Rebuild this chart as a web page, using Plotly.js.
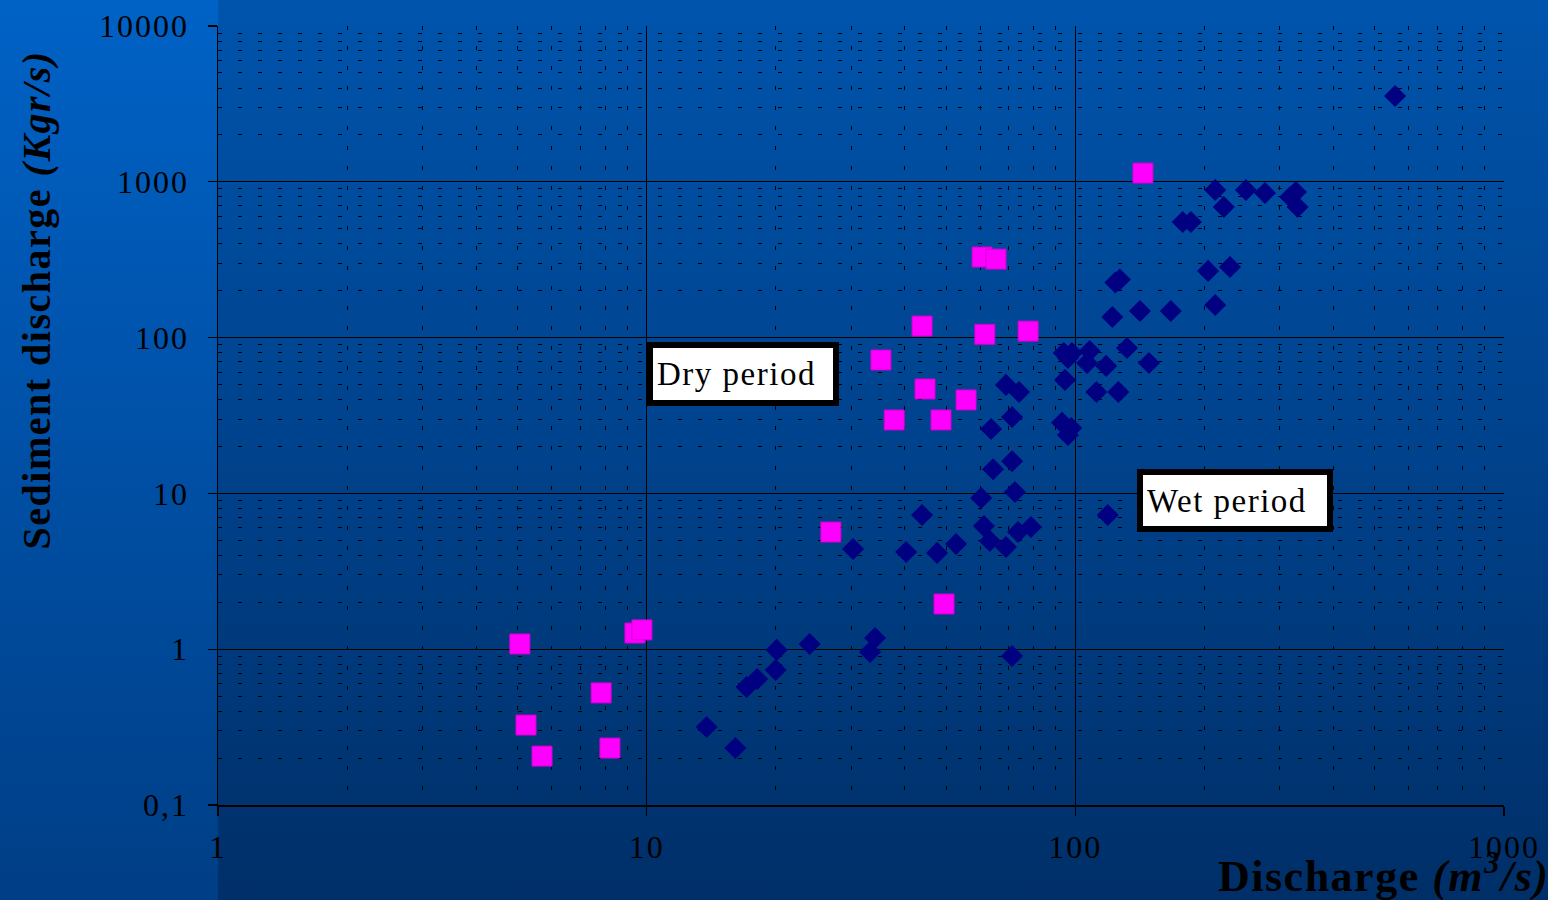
<!DOCTYPE html>
<html>
<head>
<meta charset="utf-8">
<script src="https://cdn.plot.ly/plotly-3.0.1.min.js"></script>
<style>
  html, body { margin: 0; padding: 0; }
  #wrap { position: relative; width: 1548px; height: 900px;
          background: linear-gradient(to bottom, #0054ac 0%, #00428c 50%, #002f68 100%); overflow: hidden; }
  #strip { position: absolute; left: 0; top: 0; width: 218px; height: 900px;
           background: linear-gradient(to bottom, #0062c6 0%, #0050a6 50%, #003e86 100%); }
  #chart { position: absolute; left: 0; top: 0; width: 1548px; height: 900px; }
  #chart .xtick text, #chart .ytick text { letter-spacing: 2px; }
  #chart .annotation-text { letter-spacing: 1.5px; }
</style>
</head>
<body>
<div id="wrap"><div id="strip"></div><div id="chart"></div></div>
<script>
// Dry period (magenta squares)
const dryDischarge = [5.06, 5.23, 5.70, 7.83, 8.21, 9.39, 9.75, 26.9, 35.2, 37.8, 43.9, 44.6, 48.6, 49.4, 55.6, 60.6, 65.3, 61.5, 77.6, 143.8];
const drySediment  = [1.08, 0.326, 0.206, 0.524, 0.232, 1.27, 1.33, 5.65, 71.8, 29.6, 118.6, 46.8, 29.6, 1.95, 39.8, 329, 319, 105, 110, 1138];

// Wet period (navy diamonds)
const wetDischarge = [13.8, 16.1, 17.1, 18.1, 20.1, 20.0, 24.0, 30.3, 33.2, 34.1, 40.3, 43.9, 47.6, 52.7,
  60.3, 61.2, 63.2, 68.9, 73.5, 78.8, 72.3, 64.3, 71.2, 63.6, 71.2, 68.9, 73.9, 71.2,
  124, 127, 178, 186, 212, 222, 250, 277, 317, 327, 330, 122, 141.5, 167, 204, 229.5, 212,
  94.0, 98.2, 96.1, 108, 106.5, 132, 118, 148.5, 94.6, 112, 126, 93.1, 97.8, 96.1, 119, 557];
const wetSediment  = [0.317, 0.232, 0.572, 0.644, 0.99, 0.735, 1.08, 4.40, 0.96, 1.18, 4.21, 7.26, 4.15, 4.73,
  9.34, 6.18, 4.95, 4.53, 5.65, 6.08, 10.2, 14.3, 16.1, 25.9, 30.9, 49.7, 44.8, 0.904,
  226, 236, 552, 552, 885, 689, 885, 847, 798, 860, 689, 135.5, 148, 148, 268, 284, 162,
  79.6, 79.6, 74.0, 82.0, 68.7, 85.7, 65.8, 68.7, 53.5, 44.8, 44.8, 28.4, 26.3, 23.7, 7.26, 3557];

const xTickVals = [1, 10, 100, 1000];
const xTickText = ['1', '10', '100', '1000'];
const yTickVals = [0.1, 1, 10, 100, 1000, 10000];
const yTickText = ['0,1', '1', '10', '100', '1000', '10000'];

function minorVals(lo, hi) {
  const v = [];
  for (let d = lo; d < hi; d++) for (let k = 2; k <= 9; k++) v.push(k * Math.pow(10, d));
  return v;
}

const serif = 'Liberation Serif, Times New Roman, serif';

const traces = [
  { x: wetDischarge, y: wetSediment, type: 'scatter', mode: 'markers', name: 'Wet period',
    marker: { symbol: 'diamond', size: 17, color: '#000080', line: { width: 0 } }, cliponaxis: false },
  { x: dryDischarge, y: drySediment, type: 'scatter', mode: 'markers', name: 'Dry period',
    marker: { symbol: 'square', size: 20, color: '#ff00ff', line: { width: 1, color: '#d000d0' } }, cliponaxis: false }
];

const axisCommon = {
  type: 'log', showline: true, linecolor: '#000', linewidth: 1.5,
  showgrid: true, gridcolor: '#000', gridwidth: 1.2, zeroline: false,
  ticks: 'outside', ticklen: 9, tickwidth: 1.2, tickcolor: '#000',
  tickmode: 'array', tickfont: { family: serif, size: 32, color: '#000' }
};

const layout = {
  width: 1548, height: 900,
  paper_bgcolor: 'rgba(0,0,0,0)', plot_bgcolor: 'rgba(0,0,0,0)',
  margin: { l: 218, r: 44, t: 26, b: 95 },
  showlegend: false,
  xaxis: Object.assign({}, axisCommon, {
    range: [0, 3], tickvals: xTickVals, ticktext: xTickText, ticklabelstandoff: 4,
    minor: { tickmode: 'array', tickvals: minorVals(0, 3), showgrid: true, gridcolor: '#000',
             griddash: '4px,16px', gridwidth: 1, ticks: '' }
  }),
  yaxis: Object.assign({}, axisCommon, {
    range: [-1, 4], tickvals: yTickVals, ticktext: yTickText, ticklabelstandoff: 12,
    minor: { tickmode: 'array', tickvals: minorVals(-1, 4), showgrid: true, gridcolor: '#000',
             griddash: '4px,16px', gridwidth: 1, ticks: '' }
  }),
  annotations: [
    { xref: 'paper', yref: 'paper', x: -0.141, y: 0.648, xanchor: 'center', yanchor: 'middle',
      textangle: -90, showarrow: false,
      text: '<b>Sediment discharge <i>(Kgr/s)</i></b>',
      font: { family: serif, size: 40, color: '#000' } },
    { xref: 'paper', yref: 'paper', x: 1.027, y: -0.088, xanchor: 'right', yanchor: 'middle',
      showarrow: false,
      text: '<b>Discharge <i>(m<sup>3</sup>/s)</i></b>',
      font: { family: serif, size: 44, color: '#000' } },
    { xref: 'paper', yref: 'paper', x: 0.3336, y: 0.5944, xanchor: 'left', yanchor: 'top',
      showarrow: false, text: 'Dry period', align: 'left',
      width: 172, height: 44, borderpad: 4, borderwidth: 6, bordercolor: '#000', bgcolor: '#fff',
      font: { family: serif, size: 33, color: '#000' } },
    { xref: 'paper', yref: 'paper', x: 0.7146, y: 0.4313, xanchor: 'left', yanchor: 'top',
      showarrow: false, text: 'Wet period', align: 'left',
      width: 176, height: 43, borderpad: 4, borderwidth: 6, bordercolor: '#000', bgcolor: '#fff',
      font: { family: serif, size: 33, color: '#000' } }
  ]
};

Plotly.newPlot('chart', traces, layout, { displayModeBar: false, staticPlot: true });
</script>
</body>
</html>
